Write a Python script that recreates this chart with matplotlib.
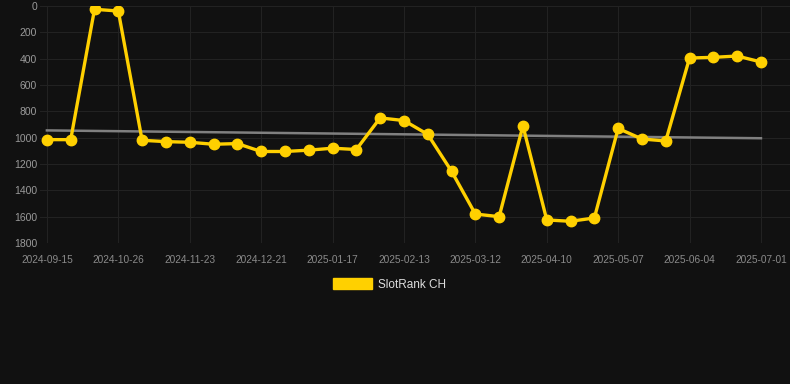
import numpy as np
import matplotlib
matplotlib.use("Agg")
import matplotlib.pyplot as plt
from matplotlib.patches import Patch

dates = [
    "2024-09-15", "2024-09-29", "2024-10-12", "2024-10-26", "2024-11-02", "2024-11-09",
    "2024-11-23", "2024-11-30", "2024-12-07", "2024-12-21", "2024-12-28", "2025-01-04",
    "2025-01-17", "2025-01-24", "2025-01-31", "2025-02-13", "2025-02-20", "2025-02-27",
    "2025-03-12", "2025-03-19", "2025-03-26", "2025-04-10", "2025-04-17", "2025-04-24",
    "2025-05-07", "2025-05-14", "2025-05-21", "2025-06-04", "2025-06-11", "2025-06-18",
    "2025-07-01",
]
rank = [
    1015, 1015, 25, 38, 1020, 1030, 1035, 1050, 1045, 1105, 1105, 1095,
    1080, 1090, 850, 870, 975, 1255, 1580, 1600, 910, 1625, 1635, 1610,
    930, 1010, 1025, 395, 390, 380, 425,
]
series_name = "SlotRank CH"
yticks = [0, 200, 400, 600, 800, 1000, 1200, 1400, 1600, 1800]

BG = "#111111"
GOLD = "#FFD000"

fig = plt.figure(figsize=(7.9, 3.84), dpi=100, facecolor=BG)
ax = fig.add_axes([40/790, 1-243/384, 750/790, 237/384], facecolor=BG)

x = np.arange(len(dates))
y = np.array(rank, dtype=float)

# trend line (linear fit)
coef = np.polyfit(x, y, 1)
ax.plot(x, np.polyval(coef, x), color="#808080", lw=1.8, zorder=2)

ax.plot(x, y, color=GOLD, lw=2.4, marker="o", ms=7.5, zorder=3)

ax.set_ylim(1800, 0)
ax.set_xlim(-0.29, 31.22)
ax.set_yticks(yticks)
tick_idx = list(range(0, len(dates), 3))
ax.set_xticks(tick_idx)
ax.set_xticklabels([dates[i] for i in tick_idx])

ax.grid(True, color="#232323", lw=0.7)
ax.set_axisbelow(True)
for s in ax.spines.values():
    s.set_visible(False)
ax.tick_params(axis="y", colors="#9a9a9a", labelsize=7.5, length=0, pad=2)
ax.tick_params(axis="x", colors="#8a8a8a", labelsize=7.3, length=0, pad=8.5)
for lab in ax.get_yticklabels() + ax.get_xticklabels():
    lab.set_fontfamily("Liberation Sans")

leg = fig.legend(handles=[Patch(facecolor=GOLD, edgecolor=GOLD, label=series_name)],
                 loc="center", bbox_to_anchor=(0.493, 1-284.5/384), frameon=False,
                 handlelength=3.3, handleheight=1.0, handletextpad=0.55,
                 prop={"family": "Liberation Sans", "size": 8.5})
for t in leg.get_texts():
    t.set_color("#dddddd")

fig.savefig("out.png", dpi=100, facecolor=BG)
